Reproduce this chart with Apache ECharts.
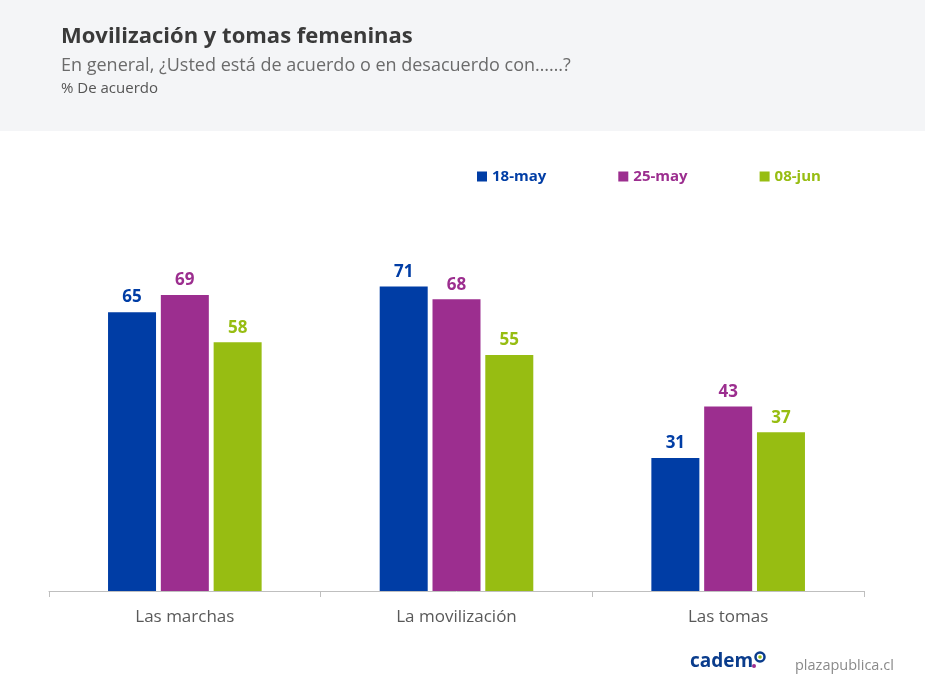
<!DOCTYPE html>
<html><head><meta charset="utf-8">
<script src="https://cdn.jsdelivr.net/npm/echarts@6/dist/echarts.min.js"></script>
<style>html,body{margin:0;padding:0;background:#fff}#c{width:925px;height:676px}</style>
</head><body><div id="c"></div>
<script>
const categories = ['Las marchas', 'La movilización', 'Las tomas'];
const seriesNames = ['18-may', '25-may', '08-jun'];
const may18 = [65, 71, 31];
const may25 = [69, 68, 43];
const jun08 = [58, 55, 37];
const colors = ['#003DA5', '#9C2E8F', '#97BD12'];
const FONT = '"Open Sans", sans-serif';

const chart = echarts.init(document.getElementById('c'), null, {renderer: 'canvas'});
const mk = (name, data, color) => ({
  name, type: 'bar', data, barWidth: 48, barGap: '10%',
  itemStyle: {color},
  label: {show: true, position: 'top', distance: 6, color, fontWeight: 'bold', fontSize: 17, fontFamily: FONT}
});
chart.setOption({
  animation: false,
  textStyle: {fontFamily: FONT},
  graphic: [
    {type: 'rect', left: 0, top: 0, shape: {width: 925, height: 131}, style: {fill: '#F4F5F7'}, silent: true, z: -10},
    {type: 'text', left: 61, top: 26, style: {text: 'Movilización y tomas femeninas', fill: '#3A3A3A', font: 'bold 22px "Open Sans", sans-serif'}},
    {type: 'text', left: 61, top: 57, style: {text: 'En general, ¿Usted está de acuerdo o en desacuerdo con……?', fill: '#6B6B6B', font: '18px "Open Sans", sans-serif'}},
    {type: 'text', left: 61, top: 81, style: {text: '% De acuerdo', fill: '#555555', font: '15px "Open Sans", sans-serif'}},
    {type: 'text', left: 690, top: 652, style: {text: 'cadem', fill: '#0A3C8C', font: 'bold 19px "Open Sans", sans-serif'}},
    {type: 'circle', shape: {cx: 760, cy: 657, r: 4.5}, style: {fill: 'none', stroke: '#0A3C8C', lineWidth: 2.5}},
    {type: 'circle', shape: {cx: 760, cy: 657, r: 1.8}, style: {fill: '#97BD12'}},
    {type: 'circle', shape: {cx: 754, cy: 666, r: 2}, style: {fill: '#9C2E8F'}},
    {type: 'text', left: 795, top: 658, style: {text: 'plazapublica.cl', fill: '#8A8A8A', font: '14.5px "Open Sans", sans-serif'}}
  ],
  legend: {
    data: seriesNames.map((n, i) => ({name: n, textStyle: {color: colors[i]}})),
    top: 164, left: 472, itemWidth: 10, itemHeight: 10, itemGap: 72, icon: 'rect',
    textStyle: {fontWeight: 'bold', fontSize: 15, fontFamily: FONT}
  },
  grid: {left: 49, right: 61, top: 162, bottom: 85},
  xAxis: {
    type: 'category', data: categories,
    axisLine: {lineStyle: {color: '#BFBFBF'}},
    axisTick: {show: true, length: 6, lineStyle: {color: '#BFBFBF'}},
    axisLabel: {color: '#595959', fontSize: 17, margin: 18, fontFamily: FONT}
  },
  yAxis: {type: 'value', min: 0, max: 100, show: false, splitLine: {show: false}},
  series: [mk(seriesNames[0], may18, colors[0]), mk(seriesNames[1], may25, colors[1]), mk(seriesNames[2], jun08, colors[2])]
});
</script></body></html>
